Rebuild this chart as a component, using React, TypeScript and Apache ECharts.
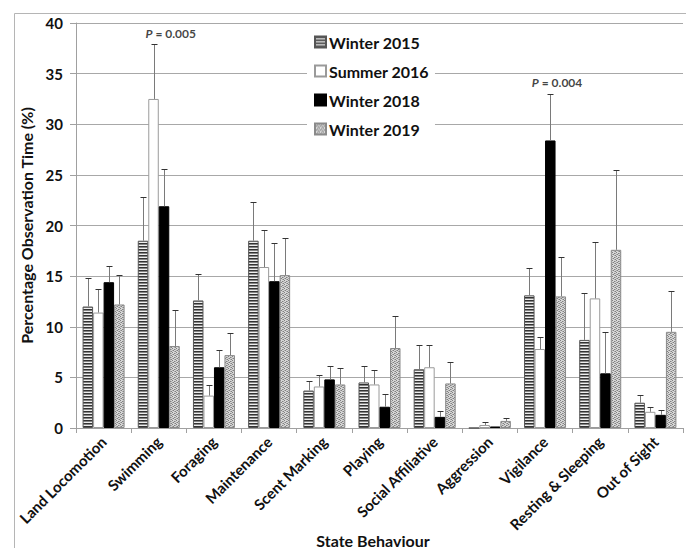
import React, { useEffect, useRef } from "react";
import * as echarts from "echarts";

const categories = [
  "Land Locomotion",
  "Swimming",
  "Foraging",
  "Maintenance",
  "Scent Marking",
  "Playing",
  "Social Affiliative",
  "Aggression",
  "Vigilance",
  "Resting & Sleeping",
  "Out of Sight",
];

const seriesNames = ["Winter 2015", "Summer 2016", "Winter 2018", "Winter 2019"];

const winter2015 = [12.0, 18.5, 12.6, 18.5, 3.7, 4.5, 5.8, 0, 13.1, 8.7, 2.5];
const winter2015Err = [2.8, 4.3, 2.6, 3.8, 0.9, 1.6, 2.4, 0, 2.7, 4.6, 0.8];
const summer2016 = [11.4, 32.5, 3.2, 15.9, 4.1, 4.3, 6.0, 0.3, 7.8, 12.8, 1.6];
const summer2016Err = [2.3, 5.4, 1.0, 3.7, 1.1, 1.4, 2.2, 0.3, 1.2, 5.6, 0.5];
const winter2018 = [14.4, 21.9, 6.0, 14.5, 4.8, 2.1, 1.1, 0.15, 28.4, 5.4, 1.3];
const winter2018Err = [1.6, 3.7, 1.7, 3.8, 1.3, 1.3, 0.6, 0, 4.6, 4.1, 0.5];
const winter2019 = [12.2, 8.1, 7.2, 15.1, 4.3, 7.9, 4.4, 0.7, 13.0, 17.6, 9.5];
const winter2019Err = [2.9, 3.6, 2.2, 3.7, 1.6, 3.2, 2.1, 0.3, 3.9, 7.9, 4.0];

const annotationCats = ["Swimming", "Vigilance"];
const annotationTexts = ["0.005", "0.004"];

const yTicks = { min: 0, max: 40, interval: 5 };

const FONT = "Lato, 'Open Sans', sans-serif";

function makeStripes() {
  const c = document.createElement("canvas");
  c.width = 4;
  c.height = 3;
  const g = c.getContext("2d")!;
  g.fillStyle = "#eeeeee";
  g.fillRect(0, 0, 4, 3);
  g.fillStyle = "#333333";
  g.fillRect(0, 0, 4, 1);
  g.fillStyle = "#858585";
  g.fillRect(0, 1, 4, 1);
  return c;
}

function makeDots() {
  const c = document.createElement("canvas");
  c.width = 4;
  c.height = 4;
  const g = c.getContext("2d")!;
  g.fillStyle = "#d6d6d6";
  g.fillRect(0, 0, 4, 4);
  g.fillStyle = "#808080";
  [
    [0, 0],
    [2, 1],
    [1, 2],
    [3, 3],
  ].forEach(([x, y]) => g.fillRect(x, y, 1, 1));
  g.fillStyle = "#aaaaaa";
  [
    [2, 3],
    [0, 2],
    [3, 1],
  ].forEach(([x, y]) => g.fillRect(x, y, 1, 1));
  return c;
}

export default function App() {
  const ref = useRef<HTMLDivElement>(null);

  useEffect(() => {
    if (!ref.current) return;
    const chart = echarts.init(ref.current, null, { renderer: "svg" });

    const values = [winter2015, summer2016, winter2018, winter2019];
    const errs = [winter2015Err, summer2016Err, winter2018Err, winter2019Err];
    const barWidth = 10.5;

    const itemStyles = [
      { color: { image: makeStripes(), repeat: "repeat" }, borderColor: "#555", borderWidth: 1 },
      { color: "#ffffff", borderColor: "#9a9a9a", borderWidth: 1 },
      { color: "#000000", borderColor: "#000", borderWidth: 1 },
      { color: { image: makeDots(), repeat: "repeat" }, borderColor: "#8a8a8a", borderWidth: 1 },
    ];

    const barSeries = seriesNames.map((name, i) => ({
      name,
      type: "bar",
      data: values[i],
      barWidth,
      barGap: "0%",
      itemStyle: itemStyles[i],
      z: 2,
    }));

    const errSeries = seriesNames.map((name, i) => ({
      name: name + " error",
      type: "custom",
      z: 3,
      data: values[i].map((v, k) => [k, v, errs[i][k]]),
      renderItem: (params: any, api: any) => {
        const cat = api.value(0);
        const v = api.value(1);
        const e = api.value(2);
        if (!(e > 0)) return null;
        const base = api.coord([cat, v]);
        const top = api.coord([cat, v + e]);
        const x = Math.round(base[0] + (i - 1.5) * barWidth) + 0.5;
        const yt = Math.round(top[1]) + 0.5;
        return {
          type: "group",
          children: [
            {
              type: "line",
              shape: { x1: x, y1: base[1], x2: x, y2: yt },
              style: { stroke: "#7a7a7a", lineWidth: 1 },
            },
            {
              type: "line",
              shape: { x1: x - 3, y1: yt, x2: x + 3, y2: yt },
              style: { stroke: "#333", lineWidth: 1 },
            },
          ],
        };
      },
    }));

    const annData = annotationCats.map((c, j) => {
      const k = categories.indexOf(c);
      let top = 0;
      values.forEach((arr, i) => {
        top = Math.max(top, arr[k] + errs[i][k]);
      });
      return { value: [k, top], txt: annotationTexts[j] };
    });

    const annSeries = {
      name: "annotations",
      type: "scatter",
      symbolSize: 0,
      z: 4,
      data: annData.map((d) => ({
        value: d.value,
        label: {
          show: true,
          position: "top",
          distance: 5,
          offset: [12, 0],
          formatter: "{i|P} = " + d.txt,
          fontFamily: FONT,
          fontWeight: "bold",
          fontSize: 12,
          color: "#111",
          rich: {
            i: { fontStyle: "italic", fontWeight: "bold", fontSize: 12, fontFamily: FONT, color: "#111" },
          },
        },
      })),
    };

    chart.setOption({
      animation: false,
      backgroundColor: "#ffffff",
      grid: { left: 76, right: 3, top: 23, bottom: 120, containLabel: false },
      legend: {
        data: seriesNames,
        orient: "vertical",
        icon: "rect",
        left: 307,
        top: 29,
        padding: [5, 6, 5, 7],
        backgroundColor: "#ffffff",
        itemWidth: 11,
        itemHeight: 11,
        itemGap: 13,
        textStyle: { fontFamily: FONT, fontWeight: "bold", fontSize: 16, color: "#111", padding: [0, 0, 0, -2] },
      },
      xAxis: {
        type: "category",
        data: categories,
        axisLine: { lineStyle: { color: "#a0a0a0" } },
        axisTick: { show: true, length: 5, lineStyle: { color: "#a0a0a0" } },
        axisLabel: {
          rotate: 45,
          interval: 0,
          margin: 11,
          fontFamily: FONT,
          fontWeight: "bold",
          fontSize: 15,
          color: "#111",
        },
        splitLine: { show: false },
      },
      yAxis: {
        type: "value",
        min: yTicks.min,
        max: yTicks.max,
        interval: yTicks.interval,
        name: "Percentage Observation Time (%)",
        nameLocation: "middle",
        nameGap: 26,
        nameTextStyle: { fontFamily: FONT, fontWeight: "bold", fontSize: 16, color: "#111" },
        axisLine: { show: true, lineStyle: { color: "#a0a0a0" } },
        axisTick: { show: true, length: 6, lineStyle: { color: "#a0a0a0" } },
        axisLabel: { fontFamily: FONT, fontWeight: "bold", fontSize: 15, color: "#111", margin: 13 },
        splitLine: { show: true, lineStyle: { color: "#a8a8a8", width: 1 } },
      },
      graphic: [
        {
          type: "rect",
          left: 12,
          top: 11,
          shape: { width: 700, height: 560 },
          style: { fill: "none", stroke: "#b5b5b5", lineWidth: 1 },
          silent: true,
          z: -10,
        },
        {
          type: "text",
          x: 373,
          y: 540,
          style: {
            text: "State Behaviour",
            fontFamily: FONT,
            fontWeight: "bold",
            fontSize: 16,
            fill: "#111",
            textAlign: "center",
            textVerticalAlign: "middle",
          },
        },
      ],
      series: [...barSeries, ...errSeries, annSeries],
    });

    return () => chart.dispose();
  }, []);

  return <div ref={ref} style={{ width: 686, height: 548, position: "absolute", left: 0, top: 0 }} />;
}
